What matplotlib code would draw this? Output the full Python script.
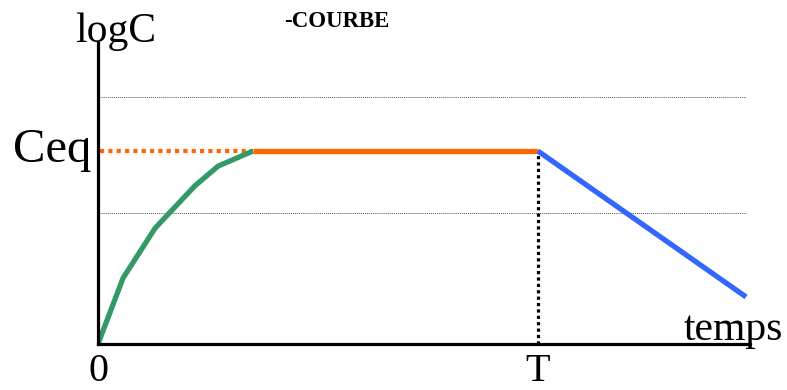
import matplotlib
matplotlib.use("Agg")
import matplotlib.pyplot as plt

# valeurs (t en unites de T/10, logC en unites de Ceq/10)
T = 10.0
CEQ = 10.0
t_montee = [0.0, 0.57, 1.3, 2.2, 2.73, 3.52]
c_montee = [0.0, 3.42, 6.01, 8.19, 9.22, CEQ]
t_palier = [3.52, T]
c_palier = [CEQ, CEQ]
t_baisse = [T, 14.73]
c_baisse = [CEQ, 2.44]
grille_y = [12.8, 6.79]

serif = ["Liberation Serif", "DejaVu Serif"]

fig = plt.figure(figsize=(7.87, 3.9), dpi=100)
ax = fig.add_axes([98 / 787, 46 / 390, 652 / 787, 301 / 390])
ax.set_xlim(0, 14.82)
ax.set_ylim(0, 15.6)

for s in ["top", "right"]:
    ax.spines[s].set_visible(False)
for s in ["left", "bottom"]:
    ax.spines[s].set_linewidth(2.3)
    ax.spines[s].set_color("black")
ax.set_xticks([])
ax.set_yticks([])

for g in grille_y:
    ax.plot([0.05, 14.73], [g, g], color="#555555", lw=0.7, ls=(0, (1, 1)))

# pointilles
ax.plot([0.05, t_palier[0]], [CEQ, CEQ], color="#FF6600", lw=3.0, ls=(0, (1, 1)))
ax.plot([T, T], [0, CEQ], color="black", lw=2.3, ls=(0, (1, 1)))

ax.plot(t_montee, c_montee, color="#339966", lw=3.8, solid_capstyle="butt")
ax.plot(t_palier, c_palier, color="#FF6600", lw=3.8, solid_capstyle="butt")
ax.plot(t_baisse, c_baisse, color="#3366FF", lw=3.8, solid_capstyle="butt")

ax.text(0.41, 15.65, "logC", family=serif, fontsize=30, ha="center", va="baseline", clip_on=False)
ax.text(-0.14, 9.43, "Ceq", family=serif, fontsize=35, ha="right", va="baseline", clip_on=False)
ax.text(0, -1.9, "0", family=serif, fontsize=29, ha="center", va="baseline", clip_on=False)
ax.text(T, -1.9, "T", family=serif, fontsize=29, ha="center", va="baseline", clip_on=False)
ax.text(13.3, 0.21, "temps", family=serif, fontsize=30, ha="left", va="baseline", clip_on=False)
ax.text(4.22, 16.45, "-COURBE", family=serif, fontsize=16.5, fontweight="bold",
        ha="left", va="baseline", clip_on=False)

fig.savefig("out.png", dpi=100)
